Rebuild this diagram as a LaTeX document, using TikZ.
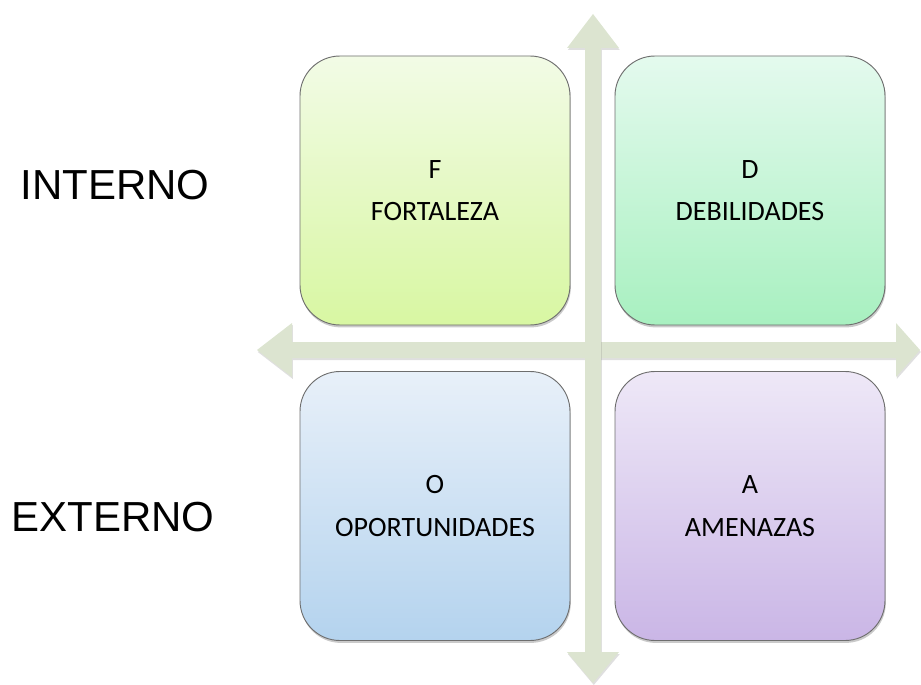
\documentclass[tikz,border=0pt]{standalone}
\usepackage{fontspec}
\setmainfont{Carlito}
\newfontfamily\arialfont{Liberation Sans}
\usetikzlibrary{shadows}
\definecolor{axiscol}{RGB}{220,228,208}
\definecolor{fTop}{RGB}{242,251,230}
\definecolor{fBot}{RGB}{216,247,162}
\definecolor{dTop}{RGB}{228,250,238}
\definecolor{dBot}{RGB}{168,240,192}
\definecolor{oTop}{RGB}{232,240,249}
\definecolor{oBot}{RGB}{180,211,238}
\definecolor{aTop}{RGB}{238,232,247}
\definecolor{aBot}{RGB}{202,182,230}
\definecolor{boxline}{RGB}{110,110,110}
\begin{document}
\begin{tikzpicture}[x=0.75pt,y=-0.75pt,
  quad/.style={draw=boxline, line width=0.7pt, rounded corners=30pt,
    minimum width=202.5pt, minimum height=201.75pt, align=center,
    font=\fontsize{21}{32}\selectfont,
    drop shadow={opacity=0.35, shadow xshift=0.6pt, shadow yshift=-1.8pt, fill=black!60}},
  side/.style={font=\arialfont\fontsize{31.5}{36}\selectfont},
  axis/.style={fill=axiscol,
    drop shadow={opacity=0.25, shadow xshift=0.6pt, shadow yshift=-1.5pt, fill=black!50}}]
\useasboundingbox (0,0) rectangle (921,685);
% horizontal axis
\coordinate (hl) at (257,350);
\coordinate (hr) at (920,350);
\path[axis] (hl) -- (292,323) -- (292,342) -- (896,342) -- (896,323) -- (hr)
  -- (896,377) -- (896,358) -- (292,358) -- (292,377) -- cycle;
% vertical axis
\coordinate (vt) at (593,14);
\coordinate (vb) at (593,683);
\path[axis] (vt) -- (619,48) -- (601,48) -- (601,652) -- (619,652) -- (vb)
  -- (567,652) -- (585,652) -- (585,48) -- (567,48) -- cycle;
% quadrants
\node[quad, top color=fTop, bottom color=fBot] (F) at (435,190.5) {F\\FORTALEZA};
\node[quad, top color=dTop, bottom color=dBot] (D) at (750,190.5) {D\\DEBILIDADES};
\node[quad, top color=oTop, bottom color=oBot] (O) at (435,506) {O\\OPORTUNIDADES};
\node[quad, top color=aTop, bottom color=aBot] (A) at (750,506) {A\\AMENAZAS};
% side labels
\node[side] (int) at (115,185) {INTERNO};
\node[side] (ext) at (113,517) {EXTERNO};
\end{tikzpicture}
\end{document}
